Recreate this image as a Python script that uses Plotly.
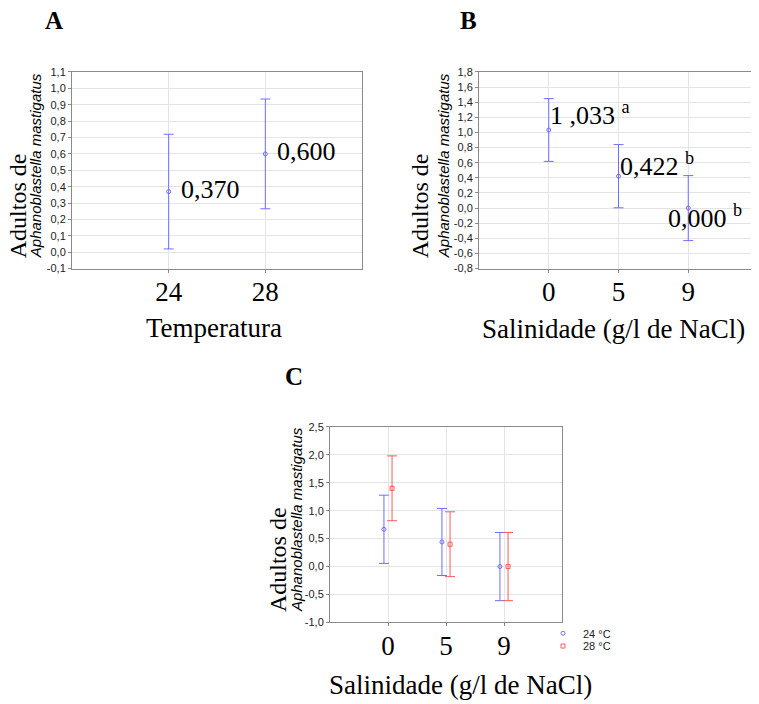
import plotly.graph_objects as go

W, H = 759, 704
OFF = 8  # page body margin

# ---------------- data ----------------
temp_categories = ["24", "28"]
temp_means = [0.370, 0.600]
temp_errors = [0.35, 0.335]
temp_labels = ["0,370", "0,600"]

sal_categories = ["0", "5", "9"]
sal_means = [1.033, 0.422, 0.0]
sal_errors = [0.415, 0.418, 0.43]
sal_labels = ["1 ,033", "0,422", "0,000"]
sal_letters = ["a", "b", "b"]

int_means_24 = [0.667, 0.44, 0.0]
int_errors_24 = [0.61, 0.60, 0.61]
int_means_28 = [1.40, 0.40, 0.0]
int_errors_28 = [0.58, 0.58, 0.61]
series_names = ["24 °C", "28 °C"]

yticks_A = [-0.1, 0.0, 0.1, 0.2, 0.3, 0.4, 0.5, 0.6, 0.7, 0.8, 0.9, 1.0, 1.1]
yticklabels_A = ["-0,1", "0,0", "0,1", "0,2", "0,3", "0,4", "0,5", "0,6", "0,7", "0,8", "0,9", "1,0", "1,1"]
yticks_B = [-0.8, -0.6, -0.4, -0.2, 0.0, 0.2, 0.4, 0.6, 0.8, 1.0, 1.2, 1.4, 1.6, 1.8]
yticklabels_B = ["-0,8", "-0,6", "-0,4", "-0,2", "0,0", "0,2", "0,4", "0,6", "0,8", "1,0", "1,2", "1,4", "1,6", "1,8"]
yticks_C = [-1.0, -0.5, 0.0, 0.5, 1.0, 1.5, 2.0, 2.5]
yticklabels_C = ["-1,0", "-0,5", "0,0", "0,5", "1,0", "1,5", "2,0", "2,5"]

# ---------------- style ----------------
BLUE = "#6f6fff"
RED = "#ff5a5a"
FRAME = "#8a8a8a"
GRID = "#e4e4e4"
SERIF = "Liberation Serif, Times New Roman, serif"
SANS = "Liberation Sans, Arial, sans-serif"
DODGE = 0.07


def px(x):
    return (x - OFF) / W


def py(y):
    return 1 - (y - OFF) / H


idx_A = list(range(len(temp_categories)))
idx_B = list(range(len(sal_categories)))
idx_C = list(range(len(sal_categories)))

fig = go.Figure()

err_style = dict(type="data", thickness=1, width=5)

fig.add_trace(go.Scatter(
    x=idx_A, y=temp_means, mode="markers",
    marker=dict(symbol="circle-open", size=4, color=BLUE, line=dict(width=1)),
    error_y=dict(array=temp_errors, color=BLUE, **err_style),
    xaxis="x", yaxis="y", showlegend=False))

fig.add_trace(go.Scatter(
    x=idx_B, y=sal_means, mode="markers",
    marker=dict(symbol="circle-open", size=4, color=BLUE, line=dict(width=1)),
    error_y=dict(array=sal_errors, color=BLUE, **err_style),
    xaxis="x2", yaxis="y2", showlegend=False))

fig.add_trace(go.Scatter(
    x=[i - DODGE for i in idx_C], y=int_means_24, mode="markers", name=series_names[0],
    marker=dict(symbol="circle-open", size=4, color=BLUE, line=dict(width=1)),
    error_y=dict(array=int_errors_24, color=BLUE, **err_style),
    xaxis="x3", yaxis="y3", legend="legend"))

fig.add_trace(go.Scatter(
    x=[i + DODGE for i in idx_C], y=int_means_28, mode="markers", name=series_names[1],
    marker=dict(symbol="square-open", size=4, color=RED, line=dict(width=1)),
    error_y=dict(array=int_errors_28, color=RED, **err_style),
    xaxis="x3", yaxis="y3", legend="legend2"))


def xax(domain, anchor, tickvals, ticktext, rng):
    return dict(domain=domain, anchor=anchor, range=rng, tickmode="array",
                tickvals=tickvals, ticktext=ticktext, showline=True, mirror=True,
                linecolor=FRAME, linewidth=1, showgrid=True, gridcolor=GRID, gridwidth=1,
                zeroline=False, ticks="outside", ticklen=3, tickcolor=FRAME,
                ticklabelstandoff=-4,
                tickfont=dict(family=SERIF, size=27, color="black"))


def yax(domain, anchor, tickvals, ticktext, rng):
    return dict(domain=domain, anchor=anchor, range=rng, tickmode="array",
                tickvals=tickvals, ticktext=ticktext, showline=True, mirror=True,
                linecolor=FRAME, linewidth=1, showgrid=True, gridcolor=GRID, gridwidth=1,
                zeroline=False, ticks="outside", ticklen=3, tickcolor=FRAME,
                tickfont=dict(family=SANS, size=11, color="#222222"))


legend_common = dict(xanchor="left", yanchor="middle",
                     font=dict(family=SANS, size=11, color="#222222"),
                     bgcolor="rgba(0,0,0,0)", itemwidth=30, tracegroupgap=0)

fig.update_layout(
    width=W, height=H, margin=dict(l=0, r=0, t=0, b=0),
    paper_bgcolor="white", plot_bgcolor="white",
    xaxis=xax([px(72), px(362)], "y", idx_A, temp_categories, [-1, 2]),
    yaxis=yax([py(267), py(67)], "x", yticks_A, yticklabels_A, [-0.1, 1.1]),
    xaxis2=xax([px(479), px(758)], "y2", idx_B, sal_categories, [-1, 3]),
    yaxis2=yax([py(267), py(67)], "x2", yticks_B, yticklabels_B, [-0.8, 1.8]),
    xaxis3=xax([px(330), px(562)], "y3", idx_C, sal_categories, [-1, 3]),
    yaxis3=yax([py(627), py(428)], "x3", yticks_C, yticklabels_C, [-1.0, 2.5]),
    legend=dict(x=px(543), y=py(638), **legend_common),
    legend2=dict(x=px(543), y=py(651), **legend_common),
    showlegend=True,
)

ann = []

# panel letters
for letter, x, y in [("A", 54, 15), ("B", 468, 15), ("C", 294, 377)]:
    ann.append(dict(text="<b>" + letter + "</b>", x=px(x), y=py(y), xref="paper", yref="paper",
                    showarrow=False, xanchor="center", yanchor="middle",
                    font=dict(family=SERIF, size=25, color="black")))

# x-axis titles
for t, x, y in [("Temperatura", 214, 327), ("Salinidade (g/l de NaCl)", 613, 328),
                ("Salinidade (g/l de NaCl)", 460, 691)]:
    ann.append(dict(text=t, x=px(x), y=py(y), xref="paper", yref="paper", showarrow=False,
                    xanchor="center", yanchor="middle",
                    font=dict(family=SERIF, size=27, color="black")))

# y-axis titles (two lines, mixed fonts)
for xa, xb, ybot in [(18, 35, 259), (420, 443, 259), (278, 296, 619)]:
    ann.append(dict(text="Adultos de", x=px(xa), y=py(ybot), xref="paper", yref="paper",
                    showarrow=False, textangle=-90, xanchor="center", yanchor="bottom",
                    font=dict(family=SERIF, size=24, color="black")))
    ann.append(dict(text="<i>Aphanoblastella mastigatus</i>", x=px(xb), y=py(ybot),
                    xref="paper", yref="paper", showarrow=False, textangle=-90,
                    xanchor="center", yanchor="bottom",
                    font=dict(family=SANS, size=15, color="black")))

# value labels panel A
for i, (lab, m) in enumerate(zip(temp_labels, temp_means)):
    ann.append(dict(text=lab, x=idx_A[i], y=m, xref="x", yref="y", showarrow=False,
                    xanchor="left", yanchor="middle", xshift=10, yshift=2,
                    font=dict(family=SERIF, size=26, color="black")))

# value labels panel B
b_shifts = [(-1, 16), (-1, 12), (-22, -8)]
for i, (lab, let, m) in enumerate(zip(sal_labels, sal_letters, sal_means)):
    ann.append(dict(text=lab + " <sup>" + let + "</sup>", x=idx_B[i], y=m, xref="x2", yref="y2",
                    showarrow=False, xanchor="left", yanchor="middle",
                    xshift=b_shifts[i][0], yshift=b_shifts[i][1],
                    font=dict(family=SERIF, size=26, color="black")))

fig.update_layout(annotations=ann)

fig.write_html("out.html")
